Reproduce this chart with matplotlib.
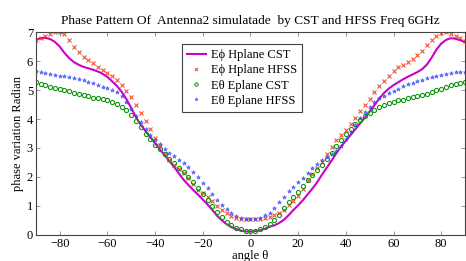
import numpy as np
import matplotlib
matplotlib.use('Agg')
import matplotlib.pyplot as plt

plt.rcParams['font.family'] = ['Liberation Serif', 'DejaVu Serif']
plt.rcParams['font.size'] = 9

# angle in degrees, 2 degree step
angle = np.arange(-90, 91, 2)

# E phi H-plane, CST (solid magenta)
hplane_cst = [6.74, 6.79, 6.80, 6.76, 6.66, 6.50, 6.28, 6.10, 5.96, 5.87,
              5.80, 5.75, 5.70, 5.64, 5.56, 5.45, 5.30, 5.14, 4.94, 4.68,
              4.38, 4.06, 3.80, 3.58, 3.37, 3.16, 2.95, 2.75, 2.55, 2.34,
              2.12, 1.90, 1.72, 1.55, 1.39, 1.22, 1.05, 0.86, 0.66, 0.50,
              0.37, 0.27, 0.20, 0.15, 0.12, 0.12,
              0.13, 0.16, 0.21, 0.28, 0.33, 0.41, 0.52, 0.68, 0.86, 1.02,
              1.20, 1.40, 1.60, 1.82, 2.08, 2.32, 2.56, 2.82, 3.05, 3.25,
              3.45, 3.65, 3.85, 4.05, 4.26, 4.48, 4.70, 4.90, 5.05, 5.17,
              5.27, 5.37, 5.46, 5.54, 5.62, 5.72, 5.88, 6.12, 6.40, 6.60,
              6.73, 6.79, 6.77, 6.72, 6.65]

# E phi H-plane, HFSS (red x)
hplane_hfss = [6.72, 6.80, 6.88, 6.95, 6.99, 7.00, 6.92, 6.74, 6.50, 6.30,
               6.13, 6.02, 5.92, 5.80, 5.68, 5.58, 5.47, 5.34, 5.18, 4.98,
               4.76, 4.50, 4.22, 3.94, 3.65, 3.36, 3.07, 2.80, 2.58, 2.40,
               2.26, 2.14, 1.96, 1.75, 1.55, 1.43, 1.32, 1.16, 1.00, 0.86,
               0.74, 0.64, 0.58, 0.55, 0.54, 0.54,
               0.55, 0.56, 0.59, 0.63, 0.69, 0.77, 0.87, 1.02, 1.18, 1.34,
               1.60, 1.88, 2.10, 2.32, 2.52, 2.78, 3.02, 3.27, 3.45, 3.62,
               3.82, 4.05, 4.28, 4.48, 4.70, 4.92, 5.15, 5.32, 5.48, 5.65,
               5.78, 5.88, 5.98, 6.08, 6.20, 6.36, 6.54, 6.72, 6.86, 6.97,
               6.99, 6.95, 6.88, 6.80, 6.71]

# E theta E-plane, CST (green circles)
eplane_cst = [5.27, 5.22, 5.17, 5.12, 5.08, 5.04, 5.00, 4.95, 4.91, 4.86,
              4.82, 4.78, 4.74, 4.71, 4.68, 4.64, 4.60, 4.53, 4.43, 4.30,
              4.14, 3.94, 3.72, 3.50, 3.30, 3.12, 2.95, 2.79, 2.63, 2.48,
              2.32, 2.16, 2.00, 1.82, 1.62, 1.42, 1.20, 0.99, 0.80, 0.62,
              0.46, 0.34, 0.25, 0.19, 0.15, 0.14,
              0.15, 0.19, 0.26, 0.36, 0.50, 0.70, 0.92, 1.12, 1.30, 1.48,
              1.68, 1.88, 2.06, 2.24, 2.42, 2.62, 2.84, 3.06, 3.28, 3.48,
              3.66, 3.84, 3.98, 4.10, 4.21, 4.31, 4.40, 4.48, 4.55, 4.60,
              4.64, 4.67, 4.71, 4.75, 4.79, 4.83, 4.87, 4.93, 4.99, 5.05,
              5.11, 5.16, 5.21, 5.24, 5.27]

# E theta E-plane, HFSS (blue)
eplane_hfss = [5.65, 5.62, 5.59, 5.56, 5.53, 5.50, 5.47, 5.44, 5.41, 5.38,
               5.34, 5.29, 5.23, 5.17, 5.12, 5.07, 5.01, 4.92, 4.78, 4.58,
               4.36, 4.12, 3.90, 3.66, 3.44, 3.28, 3.14, 2.98, 2.84, 2.71,
               2.59, 2.47, 2.33, 2.17, 1.99, 1.80, 1.62, 1.42, 1.22, 1.04,
               0.88, 0.75, 0.65, 0.58, 0.55, 0.54,
               0.56, 0.60, 0.67, 0.77, 0.92, 1.12, 1.32, 1.50, 1.66, 1.82,
               1.98, 2.14, 2.30, 2.45, 2.57, 2.68, 2.78, 2.90, 3.08, 3.30,
               3.54, 3.78, 4.02, 4.24, 4.42, 4.58, 4.71, 4.81, 4.89, 4.97,
               5.05, 5.13, 5.20, 5.26, 5.31, 5.36, 5.40, 5.44, 5.48, 5.52,
               5.56, 5.59, 5.61, 5.62, 5.62]

fig = plt.figure(figsize=(4.66, 2.61), dpi=100)
ax = fig.add_axes([0.077, 0.10, 0.921, 0.777])

ax.plot(angle, hplane_cst, '-', color='#cc00cc', lw=1.5, label='E\u03d5 Hplane CST')
ax.plot(angle, hplane_hfss, 'x', color='#ee3311', ms=2.6, mew=0.8, alpha=0.85,
        label='E\u03d5 Hplane HFSS')
ax.plot(angle, eplane_cst, 'o', color='#119911', mfc='none', ms=3, mew=0.8,
        label='E\u03b8 Eplane CST')
ax.plot(angle, eplane_hfss, '*', color='#3344ff', ms=3, mew=0.5, alpha=0.7,
        label='E\u03b8 Eplane HFSS')

ax.set_xlim(-90, 90)
ax.set_ylim(0, 7)
ax.set_xticks(np.arange(-80, 81, 20))
ax.set_yticks(np.arange(0, 8, 1))
ax.tick_params(direction='in', top=True, right=True, length=3, width=0.6,
               color='#888888', pad=2)
for s in ax.spines.values():
    s.set_linewidth(0.8)
    s.set_color('#444444')

ax.set_title('Phase Pattern Of  Antenna2 simulatade  by CST and HFSS Freq 6GHz',
             fontsize=9.6, pad=6)
ax.set_xlabel('angle \u03b8', labelpad=0)
ax.set_ylabel('phase variation Radian', labelpad=2)

leg = ax.legend(loc='upper left', bbox_to_anchor=(0.34, 0.94), borderaxespad=0,
                fancybox=False, edgecolor='#444444', framealpha=1,
                handlelength=1.5, handletextpad=0.4, labelspacing=0.25,
                markerscale=0.8, fontsize=9)
leg.get_frame().set_linewidth(0.8)

fig.savefig('out.png', dpi=100)
